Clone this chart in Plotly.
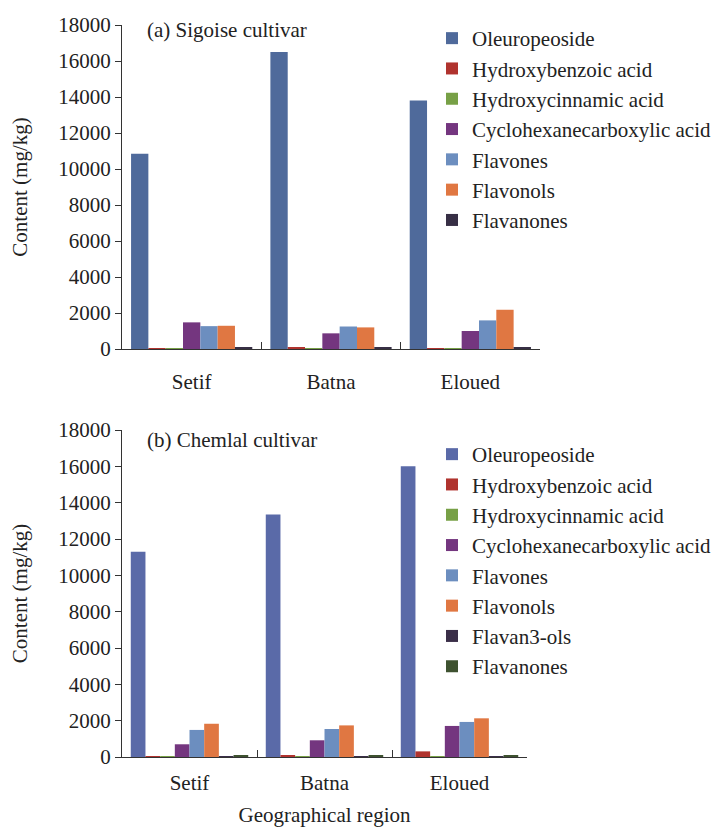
import plotly.graph_objects as go

regions = ["Setif", "Batna", "Eloued"]

# (a) Sigoise cultivar
names_a = ["Oleuropeoside", "Hydroxybenzoic acid", "Hydroxycinnamic acid",
           "Cyclohexanecarboxylic acid", "Flavones", "Flavonols", "Flavanones"]
values_a = [
    [10850, 16500, 13800],
    [20, 110, 20],
    [30, 30, 40],
    [1480, 870, 1000],
    [1270, 1250, 1590],
    [1290, 1200, 2180],
    [70, 70, 80],
]
colors_a = ["#4F6A9B", "#B0332E", "#77A046", "#74367F", "#6C8EBF", "#E07742", "#372F45"]

# (b) Chemlal cultivar
names_b = ["Oleuropeoside", "Hydroxybenzoic acid", "Hydroxycinnamic acid",
           "Cyclohexanecarboxylic acid", "Flavones", "Flavonols", "Flavan3-ols", "Flavanones"]
values_b = [
    [11300, 13350, 16000],
    [20, 100, 310],
    [40, 40, 40],
    [700, 920, 1710],
    [1490, 1540, 1930],
    [1830, 1740, 2130],
    [5, 5, 5],
    [60, 70, 70],
]
colors_b = ["#5A6AA8", "#B0332E", "#77A046", "#74367F", "#6C8EBF", "#E07742", "#3A2E48", "#3E5230"]

W, H = 717, 833
FONT = "Liberation Serif, Times New Roman, serif"
FS = 21
TXT = "#222222"
fig = go.Figure()

for n, v, c in zip(names_a, values_a, colors_a):
    fig.add_trace(go.Bar(x=regions, y=v, name=n, marker_color=c,
                         xaxis="x", yaxis="y", legend="legend",
                         marker_line_width=0))
for n, v, c in zip(names_b, values_b, colors_b):
    fig.add_trace(go.Bar(x=regions, y=v, name=n, marker_color=c,
                         xaxis="x2", yaxis="y2", legend="legend2",
                         marker_line_width=0))

def px_x(p):
    return p / W

def px_y(p):
    return 1 - p / H

def f(size=FS):
    return dict(family=FONT, size=size, color=TXT)

xcommon = dict(showline=True, linecolor="#333333", linewidth=1.3, ticks="inside",
               tickson="boundaries", ticklen=7, tickcolor="#333333", automargin=False,
               showgrid=False, tickfont=f())
ycommon = dict(showline=True, linecolor="#333333", linewidth=1.3, ticks="outside",
               ticklen=6, tickcolor="#333333", showgrid=False, zeroline=False,
               range=[0, 18000], dtick=2000, tickformat="d", automargin=False,
               tickfont=f(), ticklabelstandoff=0,
               title=dict(text="Content (mg/kg)", font=f(), standoff=24))

fig.update_layout(
    width=W, height=H,
    margin=dict(l=0, r=0, t=0, b=0, pad=0),
    paper_bgcolor="white", plot_bgcolor="rgba(0,0,0,0)",
    barmode="group", bargap=0.13, bargroupgap=0,
    font=f(),
    xaxis=dict(domain=[px_x(122), px_x(540)], anchor="y", ticklabelstandoff=14, **xcommon),
    yaxis=dict(domain=[px_y(349), px_y(25)], anchor="x", **ycommon),
    xaxis2=dict(domain=[px_x(122), px_x(527)], anchor="y2", ticklabelstandoff=7,
                title=dict(text="Geographical region", font=f(), standoff=12),
                **xcommon),
    yaxis2=dict(domain=[px_y(757), px_y(430)], anchor="x2", **ycommon),
    legend=dict(x=px_x(432), y=px_y(18), xanchor="left", yanchor="top",
                font=f(21), bgcolor="rgba(0,0,0,0)", traceorder="normal"),
    legend2=dict(x=px_x(432), y=px_y(434), xanchor="left", yanchor="top",
                 font=f(21), bgcolor="rgba(0,0,0,0)", traceorder="normal"),
    annotations=[
        dict(text="(a) Sigoise cultivar", x=px_x(145), y=px_y(30), xref="paper", yref="paper",
             xanchor="left", yanchor="middle", showarrow=False, font=f()),
        dict(text="(b) Chemlal cultivar", x=px_x(145), y=px_y(440), xref="paper", yref="paper",
             xanchor="left", yanchor="middle", showarrow=False, font=f()),
    ],
)

fig.write_html("out.html", config={"displayModeBar": False},
               post_script="document.body.style.margin='0';document.body.style.padding='0';")
